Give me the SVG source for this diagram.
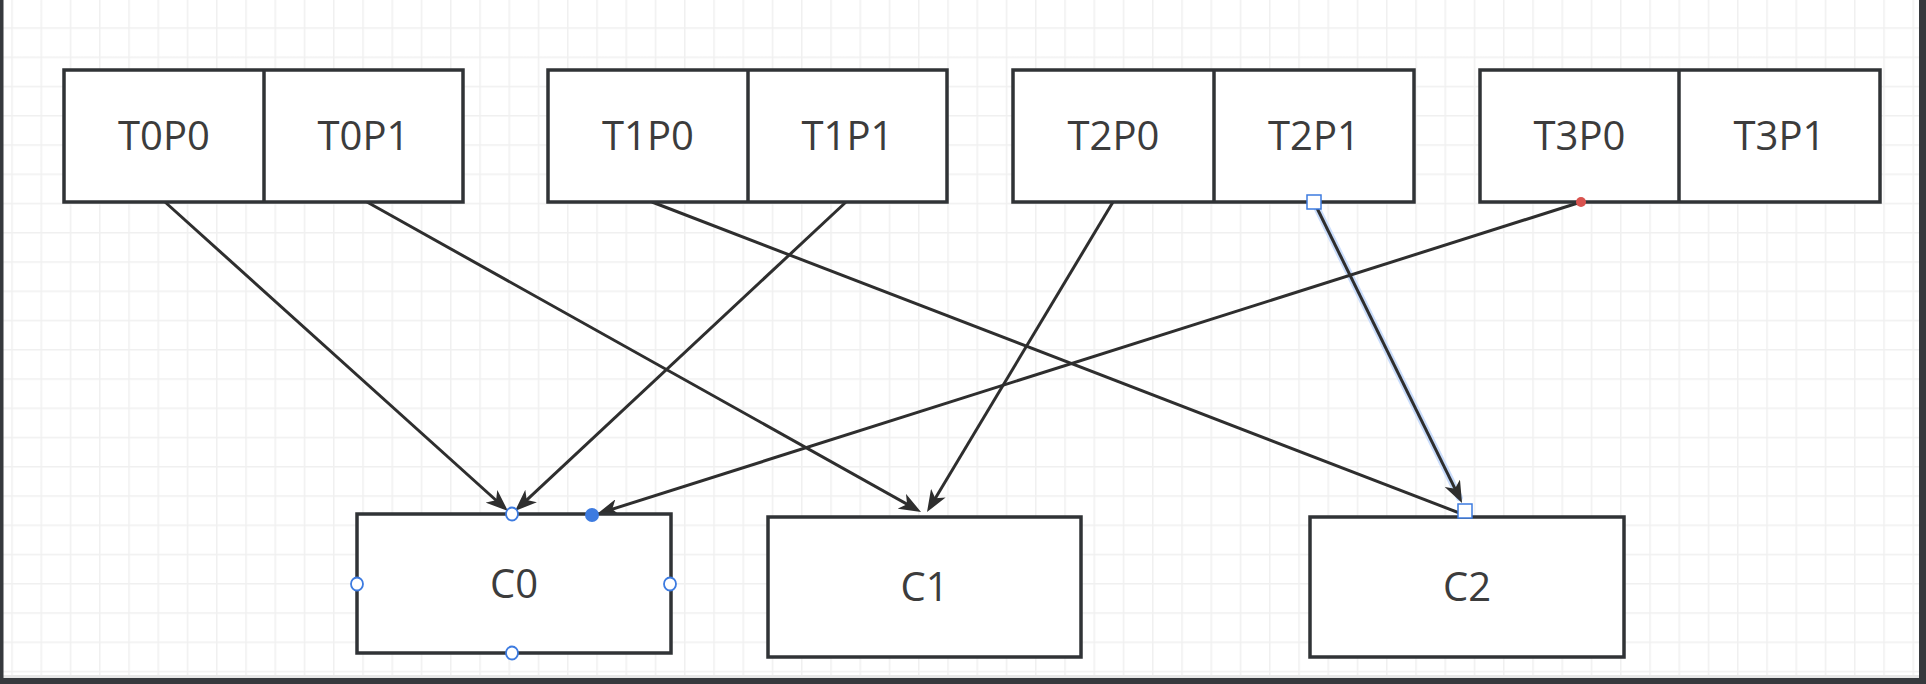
<svg xmlns="http://www.w3.org/2000/svg" width="1926" height="684" viewBox="0 0 1926 684">
<defs>
<style>
.box{fill:#fff;stroke:#303336;stroke-width:3.5}
.div{stroke:#303336;stroke-width:3.5}
.lbl{font-family:"Open Sans","Liberation Sans",sans-serif;font-size:40px;fill:#3c3c3c;text-anchor:middle}
.edge{fill:none;stroke:#2e2e2e;stroke-width:3}
.glow{fill:none;stroke:#c9dcfb;stroke-width:7;stroke-linecap:round}
.hc{fill:#fff;stroke:#3d7be0;stroke-width:1.8}
.hs{fill:#fff;stroke:#3d7be0;stroke-width:1.5}
</style>
<pattern id="grid" patternUnits="userSpaceOnUse" x="11.25" y="27.25" width="29.25" height="29.25">
<rect x="0" y="0" width="1.5" height="29.25" fill="#f0f0f0"/>
<rect x="0" y="0" width="29.25" height="1.5" fill="#f0f0f0"/>
</pattern>
<marker id="arr" markerUnits="userSpaceOnUse" markerWidth="22" markerHeight="17" viewBox="0 0 22 17" refX="16" refY="8.5" orient="auto">
<path d="M0,0 L22,8.5 L0,17 L6,8.5 Z" fill="#2e2e2e"/>
</marker>
</defs>
<rect x="0" y="0" width="1926" height="684" fill="#fff"/>
<rect x="0" y="0" width="1926" height="684" fill="url(#grid)"/>
<rect x="0" y="675" width="1926" height="3" fill="#e6e6e6"/>
<rect x="0" y="0" width="3.5" height="684" fill="#36393d"/>
<rect x="1919" y="0" width="7" height="684" fill="#36393d"/>
<rect x="0" y="678" width="1926" height="6" fill="#36393d"/>

<g id="connectors">
<line class="edge" x1="165" y1="202" x2="503.5" y2="507" marker-end="url(#arr)"/>
<line class="edge" x1="367" y1="202" x2="915.8" y2="509.1" marker-end="url(#arr)"/>
<line class="edge" x1="652" y1="202" x2="1462" y2="514"/>
<line class="edge" x1="846" y1="202" x2="519.4" y2="506.9" marker-end="url(#arr)"/>
<line class="edge" x1="1113" y1="202" x2="930.1" y2="506.9" marker-end="url(#arr)"/>
<line class="glow" x1="1314" y1="202" x2="1459.4" y2="497.6"/>
<line class="edge" x1="1314" y1="202" x2="1459.4" y2="497.6" marker-end="url(#arr)"/>
<line class="edge" x1="1581" y1="202" x2="602.7" y2="512.2" marker-end="url(#arr)"/>
</g>

<g id="T0">
<rect class="box" x="64" y="70" width="399" height="132"/>
<line class="div" x1="264" y1="70" x2="264" y2="202"/>
<text class="lbl" x="164" y="150">T0P0</text>
<text class="lbl" x="363.5" y="150">T0P1</text>
</g>
<g id="T1">
<rect class="box" x="548" y="70" width="399" height="132"/>
<line class="div" x1="748" y1="70" x2="748" y2="202"/>
<text class="lbl" x="648" y="150">T1P0</text>
<text class="lbl" x="847.5" y="150">T1P1</text>
</g>
<g id="T2">
<rect class="box" x="1013" y="70" width="401" height="132"/>
<line class="div" x1="1214" y1="70" x2="1214" y2="202"/>
<text class="lbl" x="1113.5" y="150">T2P0</text>
<text class="lbl" x="1314" y="150">T2P1</text>
</g>
<g id="T3">
<rect class="box" x="1480" y="70" width="400" height="132"/>
<line class="div" x1="1679" y1="70" x2="1679" y2="202"/>
<text class="lbl" x="1579.5" y="150">T3P0</text>
<text class="lbl" x="1779.5" y="150">T3P1</text>
</g>
<g id="C0">
<rect class="box" x="357" y="514" width="314" height="139"/>
<text class="lbl" x="514" y="598">C0</text>
</g>
<g id="C1">
<rect class="box" x="768" y="517" width="313" height="140"/>
<text class="lbl" x="924.5" y="601">C1</text>
</g>
<g id="C2">
<rect class="box" x="1310" y="517" width="314" height="140"/>
<text class="lbl" x="1467" y="601">C2</text>
</g>

<g id="selection">
<ellipse class="hc" cx="512" cy="514" rx="6" ry="6.5"/>
<ellipse class="hc" cx="357" cy="584" rx="6" ry="6.5"/>
<ellipse class="hc" cx="670" cy="584" rx="6" ry="6.5"/>
<ellipse class="hc" cx="512" cy="653" rx="6" ry="6.5"/>
<circle cx="592" cy="515" r="7" fill="#3d7be0"/>
<circle cx="1581" cy="202" r="5" fill="#d9534f"/>
<rect class="hs" x="1307" y="195" width="14" height="14"/>
<rect class="hs" x="1458" y="504" width="14" height="14"/>
</g>
</svg>
